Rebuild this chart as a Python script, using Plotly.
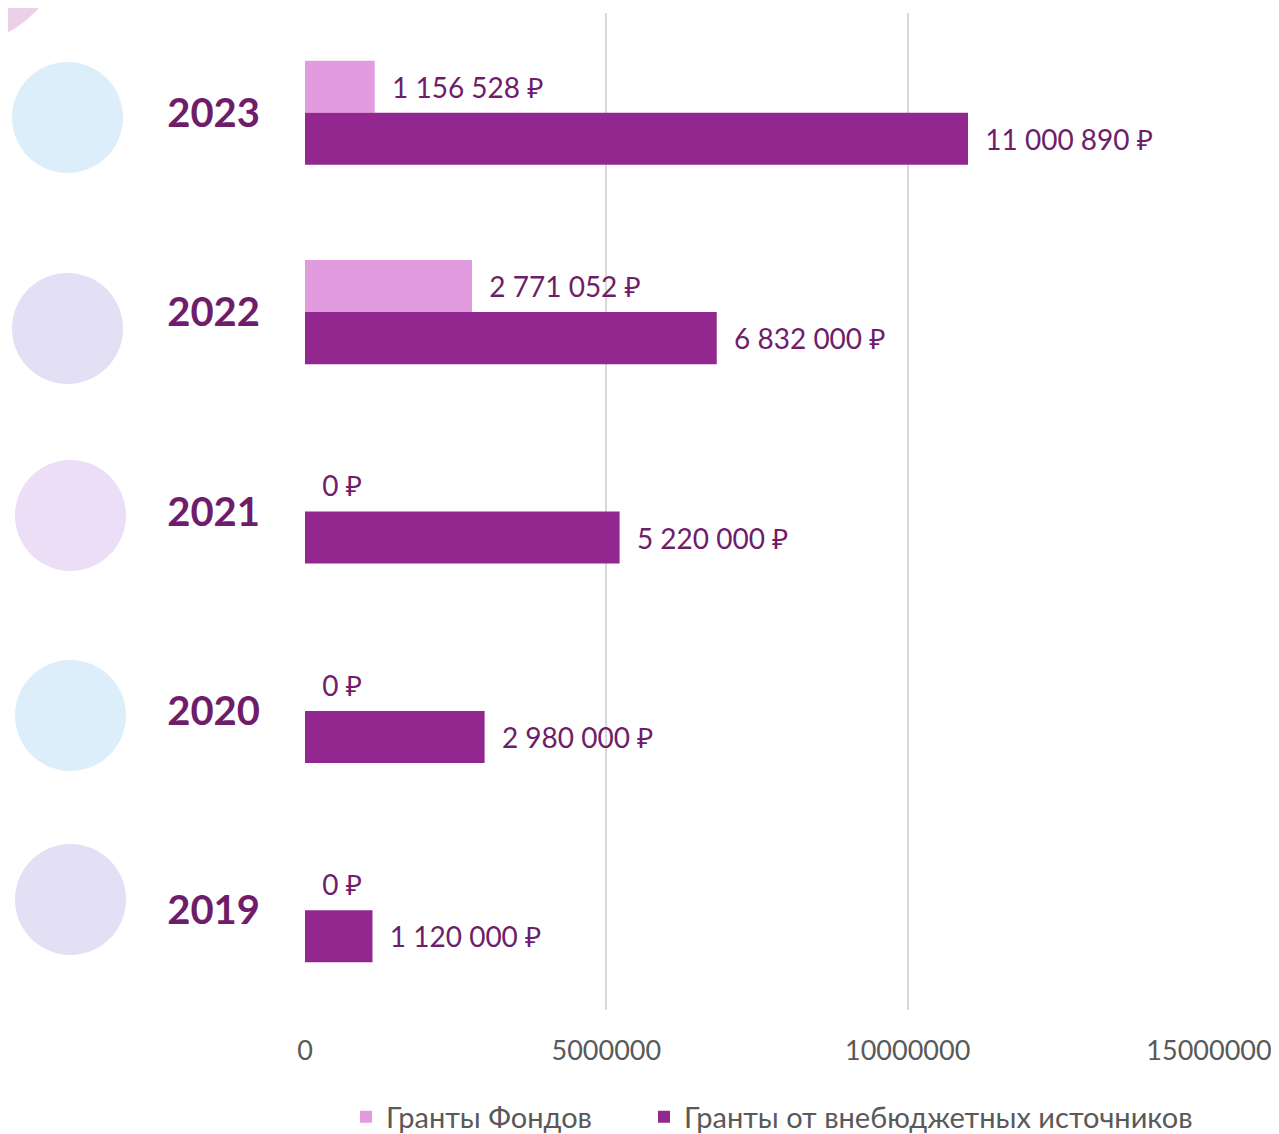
import plotly.graph_objects as go

# ---- data ----
years = ["2023", "2022", "2021", "2020", "2019"]
funds = [1156528, 2771052, 0, 0, 0]            # Гранты Фондов
offbudget = [11000890, 6832000, 5220000, 2980000, 1120000]  # Гранты от внебюджетных источников
series_names = ["Гранты Фондов", "Гранты от внебюджетных источников"]
x_ticks = [0, 5000000, 10000000, 15000000]

FONT = "Lato, 'Noto Sans', 'DejaVu Sans', sans-serif"
LIGHT = "#e39be0"
DARK = "#92278f"
LABEL = "#6f1d6b"
GRAY = "#595959"

OFF = 8  # page body margin
W, H = 1279 - OFF, 1134 - OFF
L, R, T = 305 - OFF, 70, 13 - OFF
PB = 1010 - OFF  # plot bottom in figure px
B = H - PB
PW, PH = W - L - R, PB - T


def fmt(v):
    return "\u00a0\u00a0" + f"{v:,}".replace(",", "\u00a0") + "\u00a0₽"


fig = go.Figure()
for name, vals, col, lg in [(series_names[0], funds, LIGHT, "legend"),
                            (series_names[1], offbudget, DARK, "legend2")]:
    fig.add_trace(go.Bar(
        y=years, x=vals, orientation="h", name=name, legend=lg,
        marker=dict(color=col, line=dict(width=0)),
        text=[fmt(v) for v in vals], textposition="outside",
        textfont=dict(family=FONT, size=28, color=LABEL),
        constraintext="none", cliponaxis=False,
        hoverinfo="skip",
    ))


def px_circle(x0, y0, x1, y1, color):
    # coordinates given in reference-page pixels
    x0, x1, y0, y1 = x0 - OFF, x1 - OFF, y0 - OFF, y1 - OFF
    return dict(type="circle", xref="paper", yref="paper",
                x0=(x0 - L) / PW, x1=(x1 - L) / PW,
                y0=(PB - y1) / PH, y1=(PB - y0) / PH,
                fillcolor=color, line=dict(width=0), layer="below")


decor = [
    (-144, -164, 64, 44, "#ecd0e8"),
    (12, 62, 123, 173, "#dbeefa"),
    (12, 273, 123, 384, "#e3dff5"),
    (15, 460, 126, 571, "#ecdef6"),
    (15, 660, 126, 771, "#dbeefa"),
    (15, 844, 126, 955, "#e3dff5"),
]
shapes = [px_circle(*d) for d in decor]

legend_common = dict(orientation="h", xanchor="left",
                     y=-(1117 - OFF - PB) / PH, yanchor="middle",
                     font=dict(family=FONT, size=29, color=GRAY),
                     itemclick=False, itemdoubleclick=False,
                     bgcolor="rgba(0,0,0,0)")

fig.update_layout(
    width=W, height=H,
    margin=dict(l=L, r=R, t=T, b=B, autoexpand=False),
    paper_bgcolor="white", plot_bgcolor="white",
    barmode="group", bargap=0.478, bargroupgap=0,
    font=dict(family=FONT, color=GRAY),
    shapes=shapes,
    showlegend=True,
    legend=dict(x=(346 - OFF - L) / PW, **legend_common),
    legend2=dict(x=(644 - OFF - L) / PW, **legend_common),
    xaxis=dict(range=[0, 15000000], tickvals=x_ticks, tickformat="d",
               showgrid=True, gridcolor="#d9d9d9", gridwidth=2,
               zeroline=False, showline=False, ticks="",
               tickfont=dict(family=FONT, size=27, color=GRAY),
               ticklabelstandoff=22, fixedrange=True),
    yaxis=dict(categoryorder="array", categoryarray=years, autorange="reversed",
               showgrid=False, zeroline=False, showline=False, ticks="",
               tickfont=dict(family=FONT, size=40, color=LABEL, weight="bold"),
               ticklabelstandoff=44, fixedrange=True),
)

fig.write_html("out.html")
